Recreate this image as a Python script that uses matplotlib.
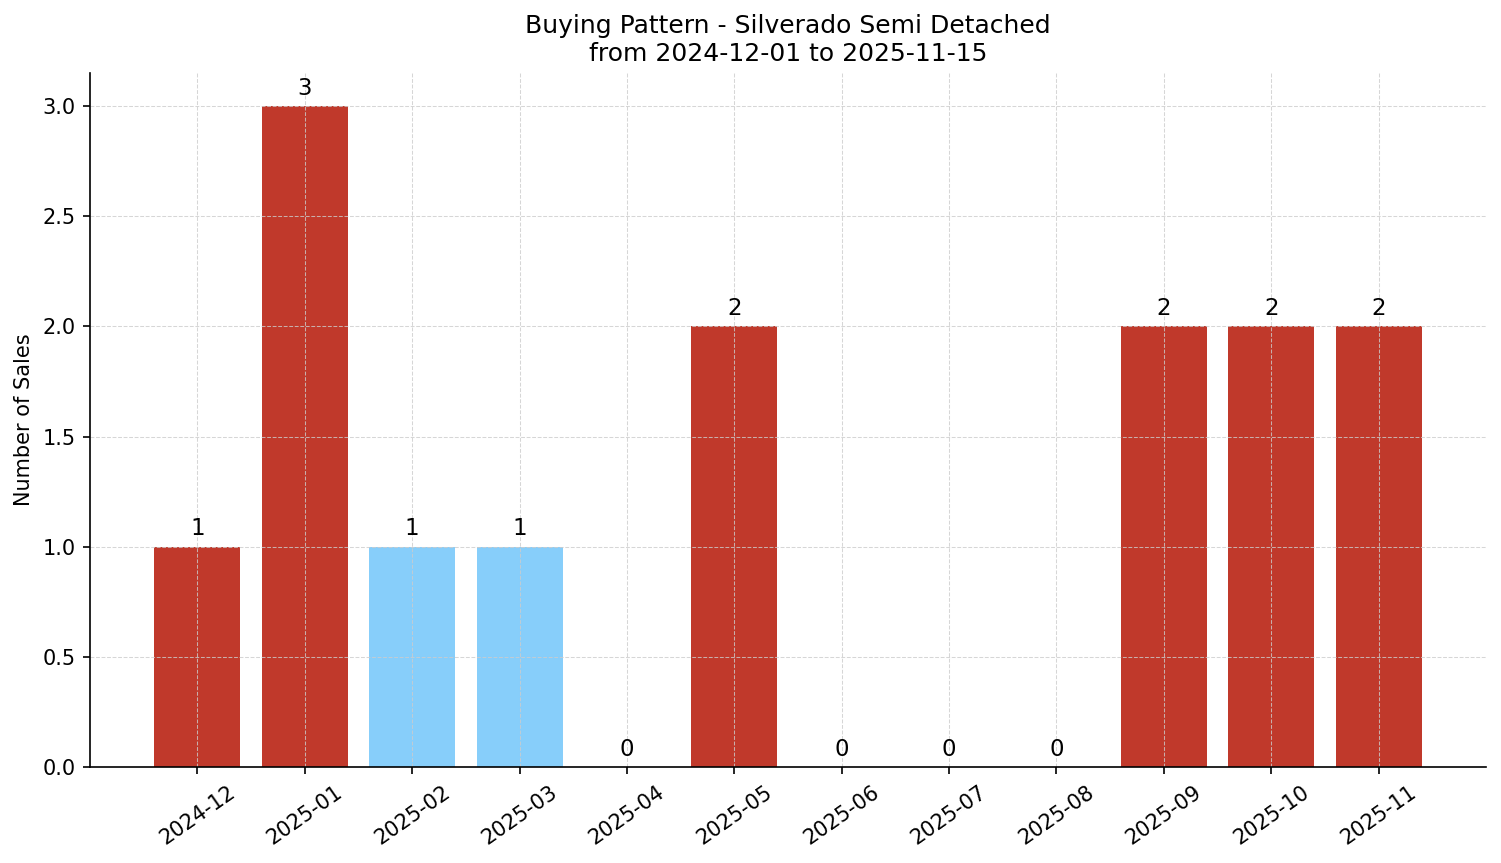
import matplotlib
matplotlib.use("Agg")
import matplotlib.pyplot as plt

months = ["2024-12", "2025-01", "2025-02", "2025-03", "2025-04", "2025-05",
          "2025-06", "2025-07", "2025-08", "2025-09", "2025-10", "2025-11"]
sales = [1, 3, 1, 1, 0, 2, 0, 0, 0, 2, 2, 2]
highlight = [True, True, False, False, False, True, False, False, False, True, True, True]

RED = "#c0392b"
BLUE = "#87cefa"

fig = plt.figure(figsize=(1501 / 150, 863 / 150), dpi=150)
ax = fig.add_axes([0.060, 0.1112, 0.930, 0.8042])

x = list(range(len(months)))
colors = [RED if h else BLUE for h in highlight]
bars = ax.bar(x, sales, width=0.8, color=colors)

for xi, v in zip(x, sales):
    ax.annotate(str(v), (xi, v), xytext=(0, 3), textcoords="offset points",
                ha="center", va="bottom", fontsize=11)

ax.set_xticks(x)
ax.set_xticklabels(months, rotation=35, fontsize=10)
ax.tick_params(axis="y", labelsize=10)
ax.set_xlim(-1, 12)
ax.set_ylim(0, 3.15)
ax.set_ylabel("Number of Sales", fontsize=10)
ax.set_title("Buying Pattern - Silverado Semi Detached\nfrom 2024-12-01 to 2025-11-15", fontsize=12)
ax.grid(True, linestyle="--", linewidth=0.5, color="#cccccc", alpha=0.8)
ax.spines["top"].set_visible(False)
ax.spines["right"].set_visible(False)

fig.savefig("out.png", dpi=150)
